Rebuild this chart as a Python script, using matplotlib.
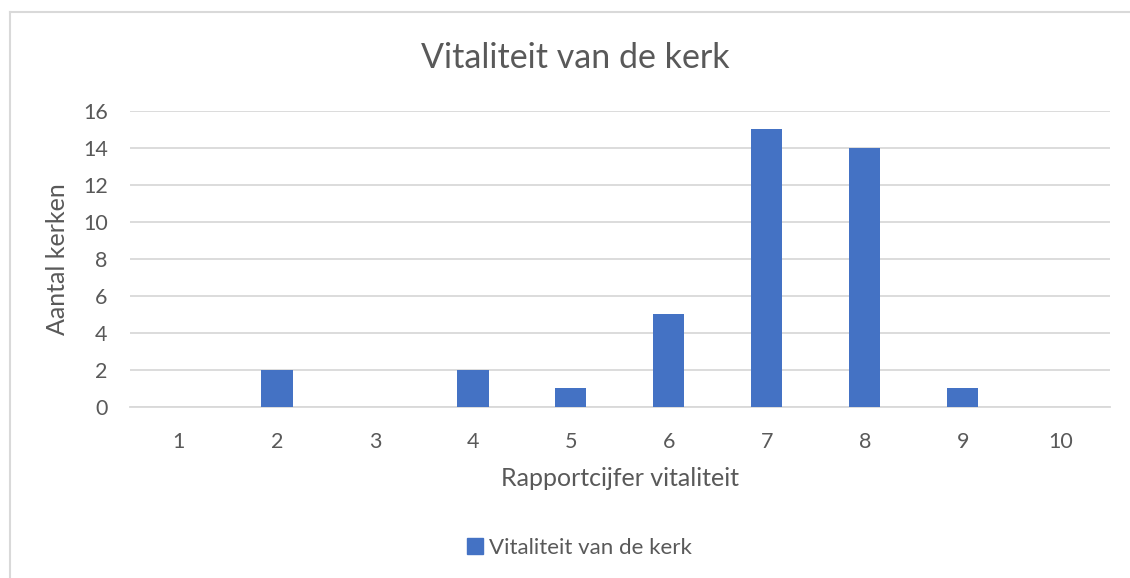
import numpy as np
import matplotlib.pyplot as plt
from matplotlib.lines import Line2D
from matplotlib.patches import Patch

# data
cijfers = [1, 2, 3, 4, 5, 6, 7, 8, 9, 10]
aantal = [0, 2, 0, 2, 1, 5, 15, 14, 1, 0]

plt.rcParams['font.family'] = ['Lato', 'DejaVu Sans']
grey = "#595959"

fig = plt.figure(figsize=(11.3, 5.78), dpi=100)
ax = fig.add_axes([0.115, 0.296, 0.867, 0.512])

ax.bar(cijfers, aantal, width=0.32, color="#4472C4", zorder=3)

ax.set_xlim(0.5, 10.5)
ax.set_ylim(0, 16)
ax.set_yticks(np.arange(0, 17, 2))
ax.set_xticks(cijfers)
ax.grid(axis="y", color="#D9D9D9", linewidth=1.3, zorder=0)
for s in ["top", "right", "left"]:
    ax.spines[s].set_visible(False)
ax.spines["bottom"].set_color("#D9D9D9")
ax.spines["bottom"].set_linewidth(1.3)
ax.tick_params(length=0, labelsize=15.5, colors=grey)
ax.tick_params(axis="x", pad=18)
ax.tick_params(axis="y", pad=16)

ax.set_xlabel("Rapportcijfer vitaliteit", fontsize=18, color=grey, labelpad=11)
ax.set_ylabel("Aantal kerken", fontsize=18, color=grey, labelpad=10)

fig.text(0.509, 0.9, "Vitaliteit van de kerk", fontsize=24.5, color=grey,
         ha="center", va="center")

handle = Patch(color="#4472C4")
fig.legend([handle], ["Vitaliteit van de kerk"], loc="center",
           bbox_to_anchor=(0.513, 0.052), frameon=False, fontsize=16,
           labelcolor=grey, handlelength=0.7, handleheight=0.7,
           handletextpad=0.3)

# chart border (left and top edges visible)
fig.add_artist(Line2D([10 / 1130, 10 / 1130], [0, 1 - 12 / 578],
                      color="#D9D9D9", linewidth=1.5))
fig.add_artist(Line2D([10 / 1130, 1], [1 - 12 / 578, 1 - 12 / 578],
                      color="#D9D9D9", linewidth=1.5))

fig.savefig("out.png", dpi=100, facecolor="white")
